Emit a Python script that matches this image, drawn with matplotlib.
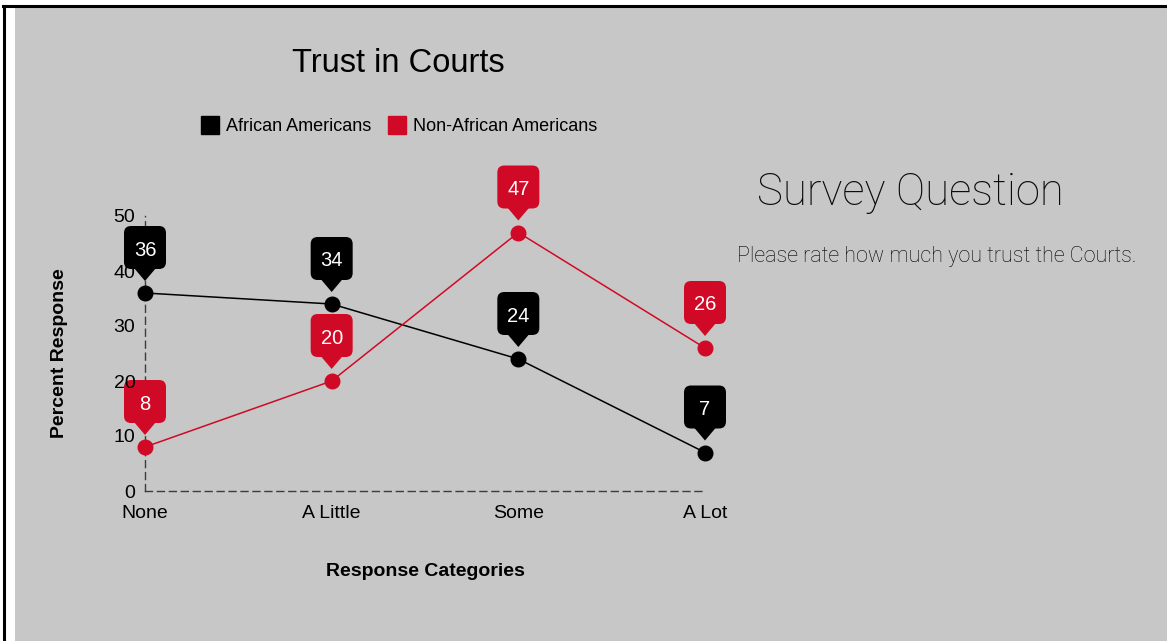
import matplotlib
matplotlib.use("Agg")
import matplotlib.pyplot as plt
import matplotlib.transforms as mtransforms
from matplotlib.patches import FancyBboxPatch, Polygon, Rectangle
from matplotlib.lines import Line2D

plt.rcParams['font.family'] = ['Liberation Sans', 'DejaVu Sans']

categories = ['None', 'A Little', 'Some', 'A Lot']
african_americans = [36, 34, 24, 7]
non_african_americans = [8, 20, 47, 26]
series_names = ['African Americans', 'Non-African Americans']

BLACK = '#000000'
RED = '#d00a26'
PANEL = '#c7c7c7'

W, H = 1167, 641
fig = plt.figure(figsize=(W / 100, H / 100), dpi=100, facecolor='white')

# page panel with the black frame on top and left
fig.patches.append(Rectangle((15 / W, 0), 1 - 15 / W, 1 - 7 / H, transform=fig.transFigure,
                             facecolor=PANEL, edgecolor='none', zorder=-1))
fig.lines.append(Line2D([3 / W, 1], [1 - 6 / H, 1 - 6 / H], transform=fig.transFigure,
                        color='black', linewidth=2.2))
fig.lines.append(Line2D([4 / W, 4 / W], [0, 1 - 6 / H], transform=fig.transFigure,
                        color='black', linewidth=2.2))

ax = fig.add_axes([145 / W, 1 - 491 / H, 560 / W, 275 / H])
ax.set_facecolor('none')
x = list(range(len(categories)))
ax.set_xlim(0, len(categories) - 1)
ax.set_ylim(0, 50)

for s in ['top', 'right']:
    ax.spines[s].set_visible(False)
for s in ['left', 'bottom']:
    ax.spines[s].set_linestyle((0, (5, 3.6)))
    ax.spines[s].set_color('#3c3c3c')
    ax.spines[s].set_linewidth(1.0)

ax.set_xticks(x)
ax.set_xticklabels(categories)
ax.set_yticks([0, 10, 20, 30, 40, 50])
ax.tick_params(axis='both', length=0, labelsize=14, colors='black')
ax.tick_params(axis='y', pad=7)
ax.tick_params(axis='x', pad=10)
ax.yaxis.set_zorder(6)

ax.set_xlabel('Response Categories', fontsize=14, fontweight='bold')
ax.xaxis.set_label_coords(0.5, -0.26)
ax.set_ylabel('Percent Response', fontsize=14, fontweight='bold')
ax.yaxis.set_label_coords(-0.1375, 0.5)


def callout(xv, yv, color):
    # rounded tag with a pointer, sized in pixels above the point
    trans = mtransforms.ScaledTranslation(xv, yv, ax.transData)
    box = FancyBboxPatch((-21, 24), 42, 43, boxstyle='round,pad=0,rounding_size=7',
                         transform=trans, facecolor=color, edgecolor='none',
                         clip_on=False, zorder=4)
    tip = Polygon([(-11, 25), (11, 25), (0, 12)], closed=True, transform=trans,
                  facecolor=color, edgecolor='none', clip_on=False, zorder=4)
    ax.add_patch(box)
    ax.add_patch(tip)
    ax.annotate(str(yv), (xv, yv), xytext=(0, 43), textcoords='offset pixels',
                ha='center', va='center', color='white', fontsize=14.5,
                annotation_clip=False, zorder=5)


for vals, color in [(african_americans, BLACK), (non_african_americans, RED)]:
    ax.plot(x, vals, color=color, linewidth=1.1, zorder=2, clip_on=False)
    ax.plot(x, vals, 'o', color=color, markersize=10.5, zorder=3, clip_on=False)
    for xv, yv in zip(x, vals):
        callout(xv, yv, color)

fig.text(398 / W, 1 - 63 / H, 'Trust in Courts', ha='center', va='center', fontsize=23.5)

handles = [Line2D([], [], linestyle='none', marker='s', markersize=12.5, color=c)
           for c in (BLACK, RED)]
fig.legend(handles, series_names, loc='center', bbox_to_anchor=(399 / W, 1 - 127 / H),
           ncol=2, frameon=False, fontsize=13, handlelength=1.0, handletextpad=0.4,
           columnspacing=0.9)

fig.text(757 / W, 1 - 205 / H, 'Survey Question', ha='left', va='baseline',
         fontsize=31.5, family=['Roboto', 'DejaVu Sans'], fontweight='light', color='#0a0a0a')
fig.text(737 / W, 1 - 262 / H, 'Please rate how much you trust the Courts.', ha='left',
         va='baseline', fontsize=15.5, family=['Roboto', 'DejaVu Sans'], fontweight='light',
         color='#000000')

fig.savefig('out.png', dpi=100, facecolor=fig.get_facecolor())
